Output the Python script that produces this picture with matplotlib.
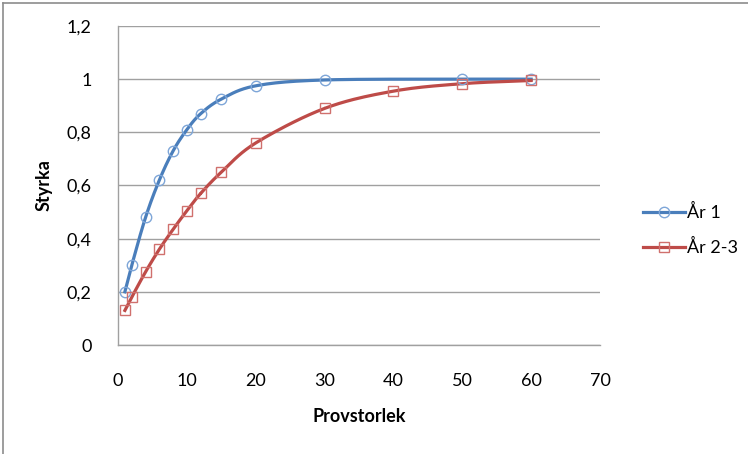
import numpy as np
import matplotlib
matplotlib.use("Agg")
import matplotlib.pyplot as plt
from matplotlib.lines import Line2D

plt.rcParams['font.family'] = ['Lato', 'DejaVu Sans']

# data
x_ar1 = [1, 2, 4, 6, 8, 10, 12, 15, 20, 30, 50, 60]
y_ar1 = [0.20, 0.30, 0.48, 0.62, 0.73, 0.81, 0.87, 0.925, 0.975, 0.997, 1.0, 1.0]

x_ar23 = [1, 2, 4, 6, 8, 10, 12, 15, 20, 30, 40, 50, 60]
y_ar23 = [0.13, 0.18, 0.275, 0.36, 0.435, 0.505, 0.57, 0.65, 0.76, 0.89, 0.955, 0.983, 0.995]

series_names = ["År 1", "År 2-3"]
x_ticks = [0, 10, 20, 30, 40, 50, 60, 70]
y_ticks = [0, 0.2, 0.4, 0.6, 0.8, 1.0, 1.2]
y_tick_labels = ["0", "0,2", "0,4", "0,6", "0,8", "1", "1,2"]

blue, blue_m = "#4A7EBB", "#7EA6D8"
red, red_m = "#BE4B48", "#D0706D"


def smooth(xs, ys, n=20):
    # Catmull-Rom curve through the points, like Excel's smoothed line
    xs = np.asarray(xs, float)
    ys = np.asarray(ys, float)
    px = np.concatenate([[2 * xs[0] - xs[1]], xs, [2 * xs[-1] - xs[-2]]])
    py = np.concatenate([[2 * ys[0] - ys[1]], ys, [2 * ys[-1] - ys[-2]]])
    t = np.linspace(0, 1, n)
    ox, oy = [], []
    for i in range(1, len(px) - 2):
        for p, o in ((px, ox), (py, oy)):
            p0, p1, p2, p3 = p[i - 1], p[i], p[i + 1], p[i + 2]
            o.extend(0.5 * (2 * p1 + (-p0 + p2) * t + (2 * p0 - 5 * p1 + 4 * p2 - p3) * t ** 2
                            + (-p0 + 3 * p1 - 3 * p2 + p3) * t ** 3))
    return ox, oy


fig = plt.figure(figsize=(7.48, 4.54), dpi=100)
ax = fig.add_axes([118 / 748, 1 - 345 / 454, (600 - 118) / 748, (345 - 26) / 454])

sx, sy = smooth(x_ar1, y_ar1)
ax.plot(sx, sy, color=blue, lw=2.3, zorder=3)
ax.plot(x_ar1, y_ar1, 'o', ms=7.5, mfc='none', mec=blue_m, mew=1.0, zorder=4)
sx, sy = smooth(x_ar23, y_ar23)
ax.plot(sx, sy, color=red, lw=2.3, zorder=3)
ax.plot(x_ar23, y_ar23, 's', ms=7.5, mfc='none', mec=red_m, mew=1.0, zorder=4)

ax.set_xlim(0, 70)
ax.set_ylim(0, 1.2)
ax.set_xticks(x_ticks)
ax.set_yticks(y_ticks)
ax.set_yticklabels(y_tick_labels)
ax.tick_params(axis='both', length=0, labelsize=13)
ax.tick_params(axis='y', pad=19)
ax.tick_params(axis='x', pad=20)
ax.yaxis.grid(True, color='#A0A0A0', lw=1.0)
ax.set_axisbelow(True)
for s in ['top', 'right']:
    ax.spines[s].set_visible(False)
for s in ['left', 'bottom']:
    ax.spines[s].set_color('#A0A0A0')
    ax.spines[s].set_linewidth(1.0)

ax.set_xlabel("Provstorlek", fontsize=13, fontweight='bold', labelpad=14)
ax.set_ylabel("Styrka", fontsize=13, fontweight='bold', labelpad=10)

handles = [Line2D([], [], color=blue, lw=2.3, marker='o', ms=7.5, mfc='none', mec=blue_m, mew=1.0),
           Line2D([], [], color=red, lw=2.3, marker='s', ms=7.5, mfc='none', mec=red_m, mew=1.0)]
fig.legend(handles, series_names, loc='center left', bbox_to_anchor=(643 / 748, 1 - 230 / 454),
           frameon=False, fontsize=13, handlelength=2.3, handletextpad=0.15, labelspacing=1.0,
           borderaxespad=0, borderpad=0)

# outer chart border (top and left edges visible)
fig.add_artist(Line2D([3 / 748, 3 / 748], [0, 1 - 3 / 454], color='#8C8C8C', lw=1.2))
fig.add_artist(Line2D([3 / 748, 1], [1 - 3 / 454, 1 - 3 / 454], color='#8C8C8C', lw=1.2))

fig.savefig("out.png", dpi=100)
